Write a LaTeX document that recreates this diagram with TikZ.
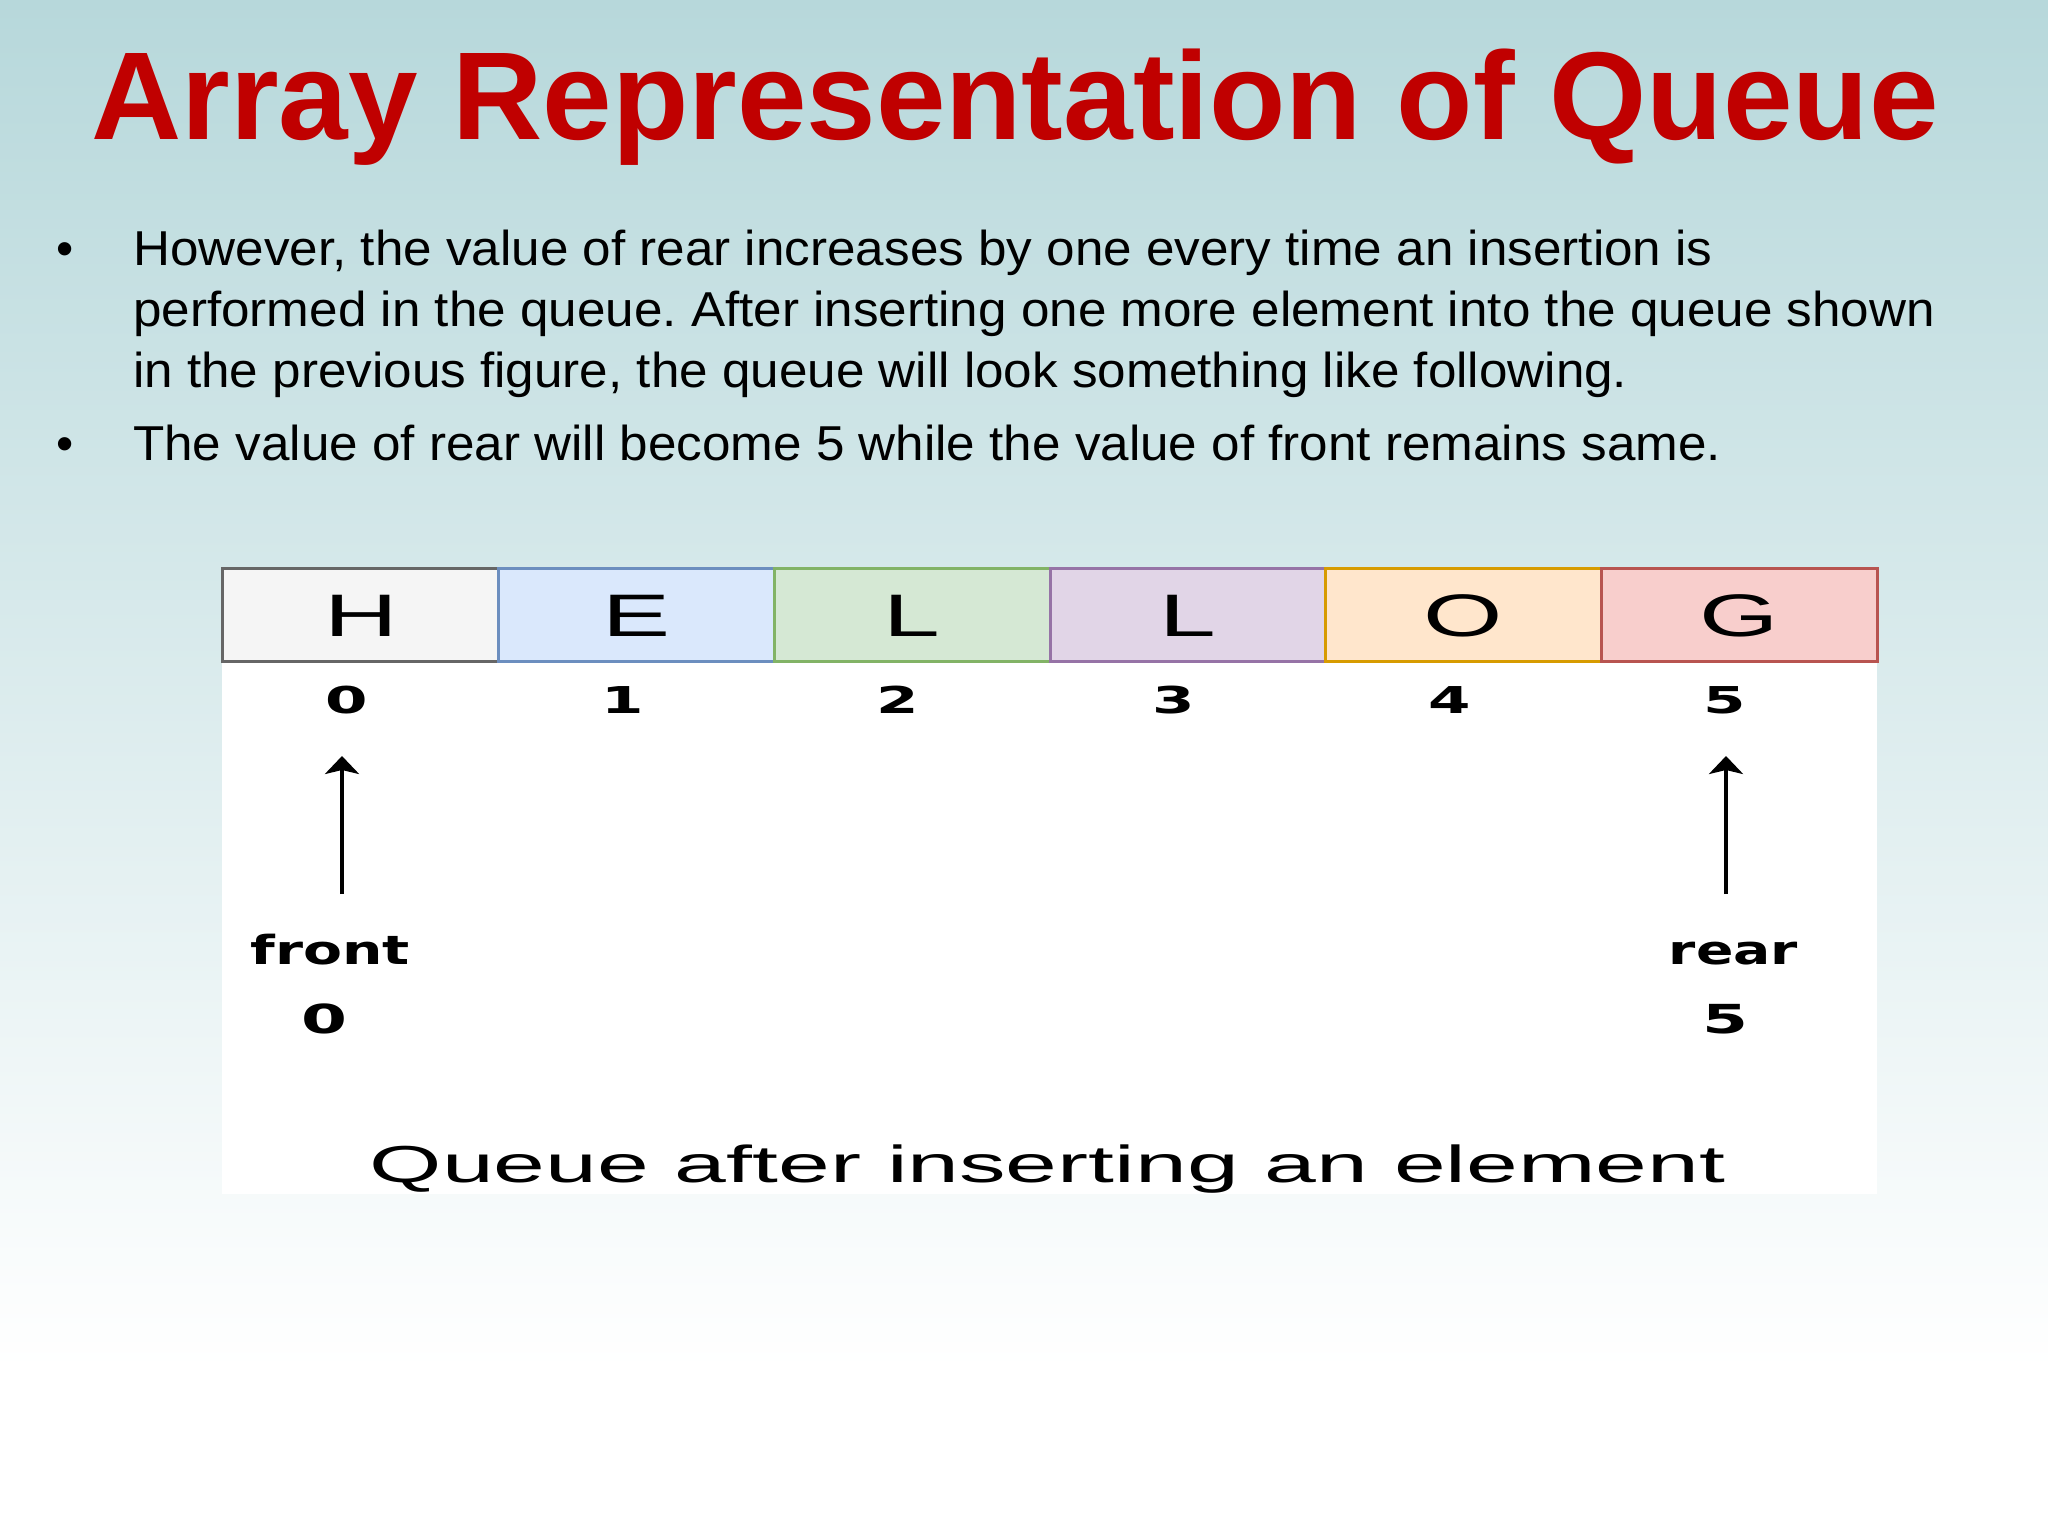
\documentclass[tikz,border=0pt]{standalone}
\usepackage{fontspec}
\setmainfont{Liberation Sans}
\newfontfamily\djv{DejaVu Sans}
\usetikzlibrary{arrows.meta}
\frenchspacing
\definecolor{bgtop}{HTML}{B7D8DB}
\definecolor{titlered}{HTML}{C00000}
\definecolor{f0}{HTML}{F5F5F5}\definecolor{s0}{HTML}{666666}
\definecolor{f1}{HTML}{DAE8FC}\definecolor{s1}{HTML}{6C8EBF}
\definecolor{f2}{HTML}{D5E8D4}\definecolor{s2}{HTML}{82B366}
\definecolor{f3}{HTML}{E1D5E7}\definecolor{s3}{HTML}{9673A6}
\definecolor{f4}{HTML}{FFE6CC}\definecolor{s4}{HTML}{D79B00}
\definecolor{f5}{HTML}{F8CECC}\definecolor{s5}{HTML}{B85450}
\newcommand{\bodyline}[1]{\scalebox{1.045}[1]{#1}}
\begin{document}
\frenchspacing
\begin{tikzpicture}[x=1pt,y=-1pt,
  titletext/.style={anchor=base west,inner sep=0,text=titlered,font=\fontsize{125}{125}\selectfont\bfseries},
  bodytext/.style={anchor=base west,inner sep=0,font=\fontsize{49}{49}\selectfont},
  cellbox/.style={minimum width=275.67pt,minimum height=93pt,inner sep=0,line width=3pt,
     text height=43pt,text depth=0pt,font=\fontsize{60}{60}\selectfont},
  idxtext/.style={anchor=base,inner sep=0,font=\fontsize{37}{37}\selectfont\djv\bfseries},
  ptrtext/.style={anchor=base,inner sep=0,font=\fontsize{40}{40}\selectfont\djv\bfseries},
  captext/.style={anchor=base,inner sep=0,font=\fontsize{52}{52}\selectfont},
  ptrarrow/.style={line width=4pt,-{Stealth[length=18pt,width=34pt,inset=4pt]}}]
\useasboundingbox (0,0) rectangle (2048,1536);
\fill[white] (0,1300) rectangle (2048,1536);
\shade[top color=bgtop,bottom color=white] (0,0) rectangle (2048,1370);
% title
\node[titletext] (title) at (91,140) {Array Representation of Queue};
% bullets
\node[bodytext] (b1) at (56,265) {•};
\node[bodytext] (b2) at (56,460) {•};
\node[bodytext] (l1) at (133,265) {\bodyline{However, the value of rear increases by one every time an insertion is}};
\node[bodytext] (l2) at (133,326) {\bodyline{performed in the queue. After inserting one more element into the queue shown}};
\node[bodytext] (l3) at (133,387) {\bodyline{in the previous figure, the queue will look something like following.}};
\node[bodytext] (l4) at (133,460) {\bodyline{The value of rear will become 5 while the value of front remains same.}};
% figure panel
\fill[white] (222,661) rectangle (1877,1194);
\foreach \i/\l in {0/H,1/E,2/L,3/L,4/O,5/G}{
  \node[cellbox,fill=f\i,draw=s\i] (c\i) at ({223+275.67*\i+137.83},614.5) {\scalebox{1.7}[1]{\l}};
  \node[idxtext] (d\i) at ({223+275.67*\i+137.83-14},713) {\scalebox{1.65}[1]{\i}};
}
% pointers
\coordinate (fa) at (342,894);
\coordinate (fb) at (342,756);
\coordinate (ra) at (1726,894);
\coordinate (rb) at (1726,756);
\draw[ptrarrow] (fa) -- (fb);
\draw[ptrarrow] (ra) -- (rb);
\node[ptrtext] (front) at (330,964) {\scalebox{1.42}[1]{front}};
\node[ptrtext] (frontv) at (324.5,1033) {\scalebox{1.65}[1]{0}};
\node[ptrtext] (rear) at (1733.5,964) {\scalebox{1.38}[1]{rear}};
\node[ptrtext] (rearv) at (1725,1033) {\scalebox{1.65}[1]{5}};
\node[captext] (cap) at (1047.5,1182) {\scalebox{1.79}[1]{Queue after inserting an element}};
\end{tikzpicture}
\end{document}
